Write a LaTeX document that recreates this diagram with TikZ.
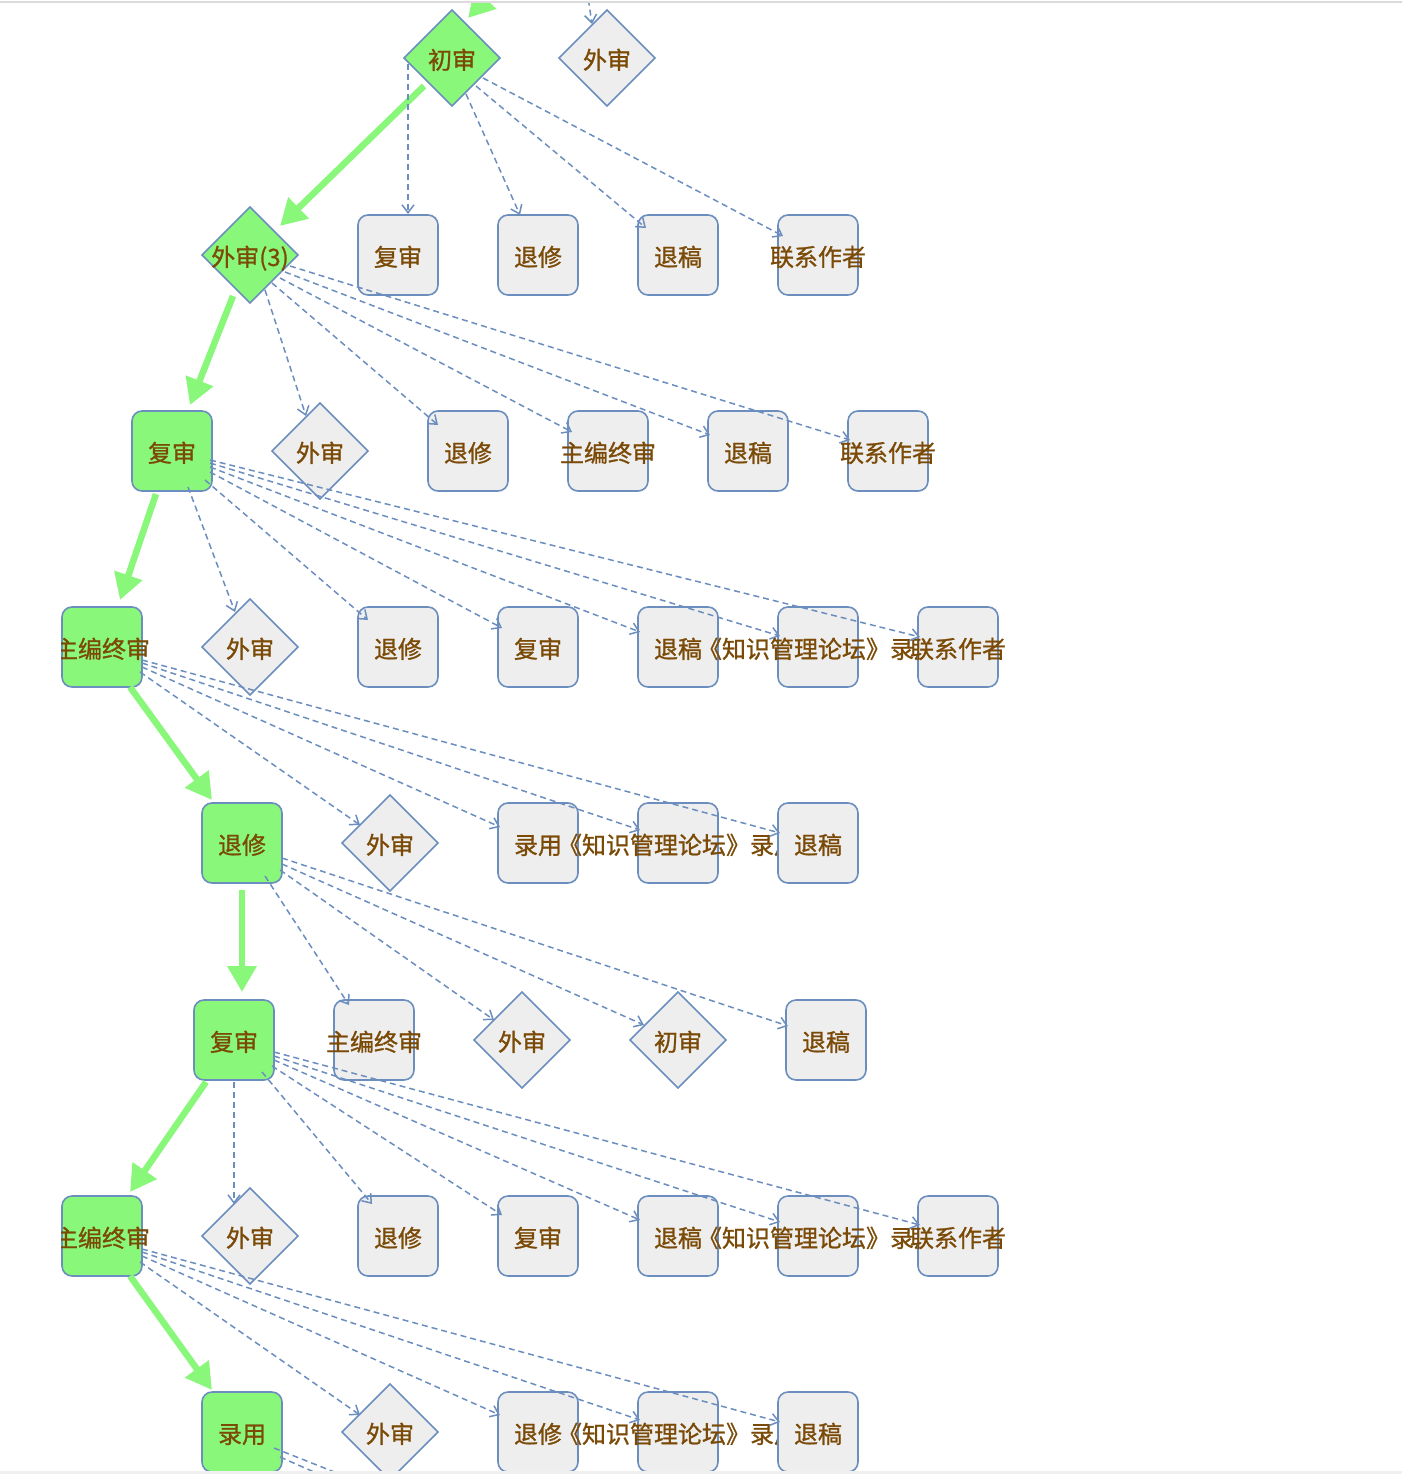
\documentclass[tikz,border=0pt]{standalone}
\usepackage{fontspec}
\setmainfont{Noto Sans CJK SC}[AutoFakeBold=1.0]
\usetikzlibrary{arrows.meta,shapes.geometric}
\definecolor{gfill}{RGB}{137,247,122}
\definecolor{bdr}{RGB}{108,142,191}
\definecolor{gyfill}{RGB}{238,238,238}
\definecolor{txt}{RGB}{122,74,6}
\newcommand\lbl[1]{\makebox[0pt]{#1}}
\newcommand\dline[4]{\draw[dedge] ([shift={(#2)}]#1.center) -- ([shift={(#4)}]#3.center);}
\newcommand\gline[4]{\draw[gedge] ([shift={(#2)}]#1.center) -- ([shift={(#4)}]#3.center);}
\begin{document}
\begin{tikzpicture}[x=1pt,y=-1pt,
  every node/.style={font=\fontsize{24pt}{28pt}\selectfont\bfseries, text=txt, inner sep=0pt, outer sep=0pt, text height=23pt, text depth=1pt},
  gbox/.style={rectangle, draw=bdr, line width=1.6pt, fill=gfill, rounded corners=10pt, minimum width=80pt, minimum height=80pt},
  ybox/.style={rectangle, draw=bdr, line width=1.6pt, fill=gyfill, rounded corners=10pt, minimum width=80pt, minimum height=80pt},
  gdia/.style={diamond, shape aspect=1, draw=bdr, line width=1.6pt, fill=gfill, minimum width=96pt, minimum height=96pt},
  ydia/.style={diamond, shape aspect=1, draw=bdr, line width=1.6pt, fill=gyfill, minimum width=96pt, minimum height=96pt},
  dedge/.style={draw=bdr, line width=1.5pt, dash pattern=on 6pt off 4pt, -{Straight Barb[length=8pt,width=12pt]}},
  fedge/.style={draw=bdr, line width=1.5pt, dash pattern=on 6pt off 4pt},
  gedge/.style={draw=gfill, line width=6.5pt, -{Triangle[length=26pt,width=28pt]}}
]
\useasboundingbox (0,0) rectangle (1402,1474);
\fill[white] (0,0) rectangle (1402,1474);
\begin{scope}
\clip (61,3.2) rectangle (1402,1471);
% row 0
\node[gdia] (a0) at (452,58) {\lbl{初审}};
\node[ydia] (a1) at (607,58) {\lbl{外审}};
% row 1
\node[gdia] (b0) at (250,255) {\lbl{外审(3)}};
\node[ybox] (b1) at (398,255) {\lbl{复审}};
\node[ybox] (b2) at (538,255) {\lbl{退修}};
\node[ybox] (b3) at (678,255) {\lbl{退稿}};
\node[ybox] (b4) at (818,255) {\lbl{联系作者}};
% row 2
\node[gbox] (c0) at (172,451) {\lbl{复审}};
\node[ydia] (c1) at (320,451) {\lbl{外审}};
\node[ybox] (c2) at (468,451) {\lbl{退修}};
\node[ybox] (c3) at (608,451) {\lbl{主编终审}};
\node[ybox] (c4) at (748,451) {\lbl{退稿}};
\node[ybox] (c5) at (888,451) {\lbl{联系作者}};
% row 3
\node[gbox] (d0) at (102,647) {\lbl{主编终审}};
\node[ydia] (d1) at (250,647) {\lbl{外审}};
\node[ybox] (d2) at (398,647) {\lbl{退修}};
\node[ybox] (d3) at (538,647) {\lbl{复审}};
\node[ybox] (d4) at (678,647) {\lbl{退稿}};
\node[ybox] (d5) at (818,647) {\lbl{《知识管理论坛》录用}};
\node[ybox] (d6) at (958,647) {\lbl{联系作者}};
% row 4
\node[gbox] (e0) at (242,843) {\lbl{退修}};
\node[ydia] (e1) at (390,843) {\lbl{外审}};
\node[ybox] (e2) at (538,843) {\lbl{录用}};
\node[ybox] (e3) at (678,843) {\lbl{《知识管理论坛》录用}};
\node[ybox] (e4) at (818,843) {\lbl{退稿}};
% row 5
\node[gbox] (f0) at (234,1040) {\lbl{复审}};
\node[ybox] (f1) at (374,1040) {\lbl{主编终审}};
\node[ydia] (f2) at (522,1040) {\lbl{外审}};
\node[ydia] (f3) at (678,1040) {\lbl{初审}};
\node[ybox] (f4) at (826,1040) {\lbl{退稿}};
% row 6
\node[gbox] (g0) at (102,1236) {\lbl{主编终审}};
\node[ydia] (g1) at (250,1236) {\lbl{外审}};
\node[ybox] (g2) at (398,1236) {\lbl{退修}};
\node[ybox] (g3) at (538,1236) {\lbl{复审}};
\node[ybox] (g4) at (678,1236) {\lbl{退稿}};
\node[ybox] (g5) at (818,1236) {\lbl{《知识管理论坛》录用}};
\node[ybox] (g6) at (958,1236) {\lbl{联系作者}};
% row 7
\node[gbox] (h0) at (242,1432) {\lbl{录用}};
\node[ydia] (h1) at (390,1432) {\lbl{外审}};
\node[ybox] (h2) at (538,1432) {\lbl{退修}};
\node[ybox] (h3) at (678,1432) {\lbl{《知识管理论坛》录用}};
\node[ybox] (h4) at (818,1432) {\lbl{退稿}};
% free ends
\coordinate (top0) at (530,-50);
\coordinate (top1) at (584,-30);
\coordinate (p1) at (420,1506);
\coordinate (p2) at (380,1501);
% green edges
\draw[gedge] (top0) -- ([shift={(16,-40)}]a0.center);
\gline{a0}{-28,28}{b0}{30,-29}
\gline{b0}{-17,41}{c0}{18,-46}
\gline{c0}{-16,43}{d0}{18,-47}
\gline{d0}{28,40}{e0}{-30,-43}
\gline{e0}{0,47}{f0}{8,-48}
\gline{f0}{-28,42}{g0}{28,-44}
\gline{g0}{28,40}{h0}{-30,-42}
% dashed edges
\draw[dedge] (top1) -- ([shift={(-15,-34)}]a1.center);
\dline{a0}{-44,6}{b1}{10,-41}
\dline{a0}{14,36}{b2}{-18,-40}
\dline{a0}{24,28}{b3}{-32,-27}
\dline{a0}{31,20}{b4}{-35,-19}
\dline{b0}{15,35}{c1}{-14,-35}
\dline{b0}{22,28}{c2}{-30,-26}
\dline{b0}{30,23}{c3}{-36,-19}
\dline{b0}{35,17}{c4}{-38,-16}
\dline{b0}{40,11}{c5}{-38,-11}
\dline{c0}{16,36}{d1}{-15,-35}
\dline{c0}{33,29}{d2}{-30,-27}
\dline{c0}{38,21}{d3}{-36,-19}
\dline{c0}{38,16}{d4}{-38,-15}
\dline{c0}{38,12}{d5}{-38,-11}
\dline{c0}{38,9}{d6}{-38,-10}
\dline{d0}{38,25}{e1}{-30,-18}
\dline{d0}{40,20}{e2}{-38,-16}
\dline{d0}{40,16}{e3}{-38,-13}
\dline{d0}{40,13}{e4}{-38,-10}
\dline{e0}{23,33}{f1}{-25,-35}
\dline{e0}{38,27}{f2}{-28,-20}
\dline{e0}{40,21}{f3}{-34,-15}
\dline{e0}{40,15}{f4}{-38,-14}
\dline{f0}{0,42}{g1}{-16,-32}
\dline{f0}{28,32}{g2}{-26,-32}
\dline{f0}{38,26}{g3}{-36,-21}
\dline{f0}{40,20}{g4}{-38,-16}
\dline{f0}{40,16}{g5}{-38,-14}
\dline{f0}{40,12}{g6}{-38,-11}
\dline{g0}{38,26}{h1}{-30,-17}
\dline{g0}{40,20}{h2}{-38,-17}
\dline{g0}{40,16}{h3}{-38,-12}
\dline{g0}{40,13}{h4}{-38,-10}
\draw[fedge] ([shift={(32,16)}]h0.center) -- (p1);
\draw[fedge] ([shift={(38,25)}]h0.center) -- (p2);
\end{scope}
\fill[black!14] (0,1) rectangle (1402,3);
\fill[black!6] (0,1471) rectangle (1402,1474);
\end{tikzpicture}
\end{document}
